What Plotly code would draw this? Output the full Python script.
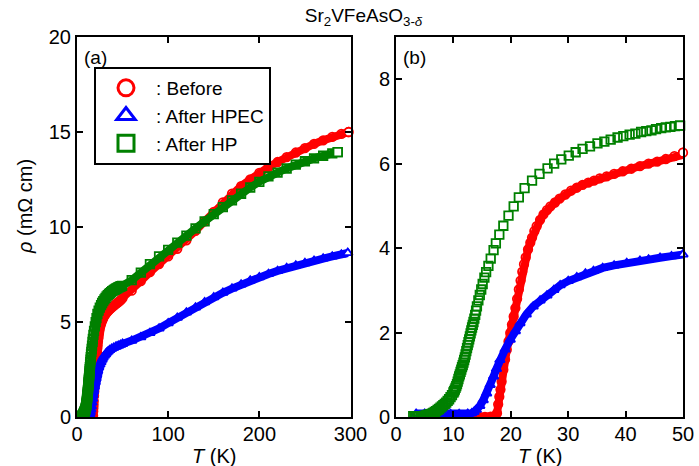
import plotly.graph_objects as go

# ---- resistivity data: T (K), rho (mOhm cm) ----
# Before
T_before = [7.5, 8.5, 9.5, 10.5, 11.5, 12.5, 13.5, 14.5, 15.5, 16.5, 17.0,
            17.3, 17.6, 17.8, 18.0, 18.2, 18.4, 18.7, 19.0, 19.3, 19.6, 19.9,
            20.2, 20.5, 20.8, 21.1, 21.4, 21.7, 22.0, 22.3, 22.6, 23.0, 23.4,
            23.7, 24.1, 24.5, 25.1, 25.7, 26.3, 26.9, 27.7, 28.5, 29.5, 30.5,
            31.5, 32.5, 33.5, 34.5, 35.5, 36.7, 38.0, 39.5, 41.0, 42.5, 44.0,
            45.5, 47.0, 48.5, 50.0,
            60, 70, 80, 90, 100, 110, 120, 130, 140, 150, 160, 170, 180, 190,
            200, 210, 220, 230, 240, 250, 260, 270, 280, 290, 298]
rho_before = [0.0, 0.0, 0.0, 0.0, 0.0, 0.0, 0.0, 0.0, 0.0, 0.01, 0.01,
              0.02, 0.09, 0.30, 0.48, 0.65, 0.84, 1.12, 1.36, 1.59, 1.79, 1.99,
              2.19, 2.38, 2.58, 2.80, 3.02, 3.23, 3.44, 3.62, 3.78, 3.97, 4.13,
              4.25, 4.40, 4.52, 4.67, 4.80, 4.90, 4.99, 5.08, 5.17, 5.27, 5.36,
              5.43, 5.50, 5.55, 5.60, 5.65, 5.70, 5.76, 5.82, 5.88, 5.94, 6.00,
              6.05, 6.11, 6.18, 6.26,
              6.65, 7.15, 7.62, 8.05, 8.45, 8.85, 9.30, 9.80, 10.30, 10.80,
              11.30, 11.75, 12.15, 12.50, 12.85, 13.15, 13.42, 13.68, 13.92,
              14.15, 14.37, 14.56, 14.74, 14.90, 15.00]

# After HPEC
T_hpec = [3.5, 5.0, 6.5, 8.0, 9.5, 11.0, 12.5, 13.2, 13.6, 14.0, 14.6, 15.2,
          15.8, 16.4, 17.0, 17.5, 18.1, 19.0, 19.9, 20.8, 21.6, 22.7, 23.9,
          25.1, 26.3, 27.5, 28.6, 30.0, 31.5, 33.0, 34.4, 36.0, 38.0, 40.2,
          42.5, 44.0, 46.0, 48.0, 50.0,
          60, 70, 80, 90, 100, 110, 120, 130, 140, 150, 160, 170, 180, 190,
          200, 210, 220, 230, 240, 250, 260, 270, 280, 290, 297]
rho_hpec = [0.08, 0.08, 0.07, 0.07, 0.07, 0.07, 0.08, 0.09, 0.12, 0.17, 0.26,
            0.40, 0.56, 0.76, 0.96, 1.14, 1.35, 1.60, 1.83, 2.03, 2.22, 2.43,
            2.62, 2.76, 2.88, 3.01, 3.12, 3.22, 3.31, 3.40, 3.46, 3.53, 3.59,
            3.65, 3.70, 3.73, 3.77, 3.81, 3.85,
            4.02, 4.20, 4.42, 4.66, 4.94, 5.22, 5.50, 5.77, 6.04, 6.30, 6.54,
            6.76, 6.98, 7.18, 7.36, 7.53, 7.69, 7.84, 7.98, 8.10, 8.22, 8.34,
            8.45, 8.56, 8.63]

# After HP
T_hp = [3.0, 3.25, 3.5, 3.75, 4.0, 4.25, 4.5, 4.75, 5.0, 5.25, 5.5, 5.75,
        6.0, 6.25, 6.5, 6.75, 7.0, 7.25, 7.5, 7.75,
        8.0, 8.25, 8.5, 8.75, 9.0, 9.25, 9.5, 9.75, 10.0, 10.125, 10.25,
        10.375, 10.5, 10.625, 10.75, 10.875, 11.0, 11.125, 11.25, 11.375,
        11.5, 11.625, 11.75, 11.875, 12.0, 12.125, 12.25, 12.375, 12.5,
        12.625, 12.75, 12.875, 13.0, 13.125, 13.25, 13.375, 13.5, 13.65,
        13.8, 13.95, 14.1, 14.35, 14.6, 14.85, 15.1, 15.4, 15.7, 16.1, 16.5,
        17.0, 17.4, 18.0, 18.7, 19.6, 20.5, 21.4, 22.4, 23.7, 25.0, 26.4,
        27.55, 28.8, 30.1, 31.3, 32.5, 33.8, 35.1, 36.3, 37.4, 38.6, 39.6,
        40.7, 41.7, 42.7, 43.6, 44.5, 45.3, 46.2, 47.0, 47.8, 48.6, 49.5,
        60, 70, 80, 90, 100, 110, 120, 130, 140, 150, 160, 170, 180, 190,
        200, 210, 220, 230, 240, 250, 260, 270, 280, 286]
rho_hp = [0.02, 0.02, 0.02, 0.02, 0.02, 0.02, 0.02, 0.02, 0.03, 0.04, 0.05,
          0.06, 0.07, 0.08, 0.10, 0.12, 0.14, 0.17, 0.19, 0.22,
          0.25, 0.28, 0.31, 0.34, 0.38, 0.42, 0.47, 0.52, 0.58, 0.61, 0.65,
          0.69, 0.73, 0.78, 0.84, 0.90, 0.96, 1.01, 1.07, 1.12,
          1.18, 1.23, 1.29, 1.35, 1.41, 1.48, 1.56, 1.63, 1.70,
          1.77, 1.84, 1.91, 1.98, 2.05, 2.12, 2.18, 2.25, 2.33,
          2.42, 2.52, 2.62, 2.76, 2.89, 3.02, 3.15, 3.30, 3.43, 3.58, 3.75,
          3.95, 4.11, 4.32, 4.53, 4.77, 4.99, 5.20, 5.42, 5.60, 5.76, 5.89,
          6.00, 6.10, 6.19, 6.27, 6.35, 6.41, 6.48, 6.52, 6.57, 6.62, 6.65,
          6.69, 6.71, 6.75, 6.77, 6.79, 6.82, 6.84, 6.86, 6.87, 6.89, 6.90,
          7.20, 7.60, 8.05, 8.45, 8.80, 9.18, 9.55, 9.93, 10.30, 10.68, 11.05,
          11.40, 11.75, 12.08, 12.38, 12.66, 12.86, 13.08, 13.28, 13.46,
          13.61, 13.75, 13.87, 13.94]

series = [
    dict(T=T_before, rho=rho_before, name=": Before", color="#ff0000",
         symbol="circle"),
    dict(T=T_hpec, rho=rho_hpec, name=": After HPEC", color="#0000ff",
         symbol="triangle-up"),
    dict(T=T_hp, rho=rho_hp, name=": After HP", color="#008000",
         symbol="square"),
]

FONT = "Liberation Sans, Arial, sans-serif"
T_ZOOM_MAX = 50

fig = go.Figure()

for s in series:
    for xa, ya, zoomed in (("x", "y", False), ("x2", "y2", True)):
        band = not (zoomed and s["symbol"] == "square")
        # dense measurement points rendered as a solid band plus open markers
        fig.add_trace(go.Scatter(
            x=s["T"], y=s["rho"], xaxis=xa, yaxis=ya,
            mode="lines+markers" if band else "markers",
            line=dict(color=s["color"], width=8),
            marker=dict(symbol=s["symbol"] + "-open", size=8.5,
                        color=s["color"], line=dict(width=1.8, color=s["color"])),
            showlegend=False, hoverinfo="skip"))
        # last point inside the visible temperature window
        if zoomed:
            idx = max(i for i, t in enumerate(s["T"]) if t <= T_ZOOM_MAX)
        else:
            idx = len(s["T"]) - 1
        fig.add_trace(go.Scatter(
            x=[s["T"][idx]], y=[s["rho"][idx]], xaxis=xa, yaxis=ya,
            mode="markers", cliponaxis=False,
            marker=dict(symbol=s["symbol"], size=8.5, color="white",
                        line=dict(width=1.8, color=s["color"])),
            showlegend=False, hoverinfo="skip"))

# legend entries
for s in series:
    fig.add_trace(go.Scatter(
        x=[None], y=[None], mode="markers", name=s["name"],
        marker=dict(symbol=s["symbol"] + "-open", size=18, color=s["color"],
                    line=dict(width=3, color=s["color"]))))

axis_common = dict(showline=True, linecolor="black", linewidth=2,
                   mirror="allticks", ticks="inside", ticklen=6, tickwidth=2,
                   tickcolor="black", showgrid=False, zeroline=False,
                   automargin=False,
                   tickfont=dict(family=FONT, size=20, color="black"))

W, H = 699, 466
ML, MR, MT, MB = 77, 16, 37, 49
pw = W - ML - MR
ph = H - MT - MB


def px_x(px):
    """Horizontal pixel -> paper fraction."""
    return (px - ML) / pw


def px_y(py):
    """Vertical pixel (from top) -> paper fraction."""
    return (H - MB - py) / ph


axis_title_font = dict(family=FONT, size=20, color="black")

fig.update_layout(
    template="none",
    width=W, height=H,
    margin=dict(l=ML, r=MR, t=MT, b=MB, pad=0),
    paper_bgcolor="white", plot_bgcolor="white",
    font=dict(family=FONT, size=20, color="black"),
    title=dict(text="Sr<sub>2</sub>VFeAsO<sub>3-<i>δ</i></sub>",
               x=363.5 / W, xanchor="center", y=1 - 15 / H, yanchor="middle",
               font=dict(size=19)),
    xaxis=dict(domain=[0, px_x(350.5)], range=[0, 300],
               tickvals=[0, 100, 200, 300], ticklabelstandoff=-2,
               **axis_common),
    yaxis=dict(domain=[0, 1], range=[0, 20], tickvals=[0, 5, 10, 15, 20],
               **axis_common),
    xaxis2=dict(domain=[px_x(396), 1], range=[0, 50],
                tickvals=[0, 10, 20, 30, 40, 50], anchor="y2",
                ticklabelstandoff=-2, **axis_common),
    yaxis2=dict(domain=[0, 1], range=[0, 9], tickvals=[0, 2, 4, 6, 8],
                anchor="x2", **axis_common),
    legend=dict(x=px_x(94), y=px_y(67), xanchor="left", yanchor="top",
                bordercolor="black", borderwidth=2, bgcolor="white",
                font=dict(family=FONT, size=19), itemwidth=50,
                tracegroupgap=0),
    annotations=[
        dict(text="(a)", xref="x domain", yref="y domain", x=0.02, y=0.978,
             xanchor="left", yanchor="top", showarrow=False,
             font=dict(size=19)),
        dict(text="(b)", xref="x2 domain", yref="y2 domain", x=0.016, y=0.978,
             xanchor="left", yanchor="top", showarrow=False,
             font=dict(size=19)),
        # axis titles
        dict(text="<i>T</i> (K)", xref="x domain", yref="paper", x=0.5,
             y=px_y(456), xanchor="center", yanchor="middle", showarrow=False,
             font=axis_title_font),
        dict(text="<i>T</i> (K)", xref="x2 domain", yref="paper", x=0.5,
             y=px_y(456), xanchor="center", yanchor="middle", showarrow=False,
             font=axis_title_font),
        dict(text="<i>ρ</i> (mΩ cm)", xref="paper", yref="paper",
             x=px_x(25), y=px_y(207), xanchor="center", yanchor="middle",
             textangle=-90, showarrow=False, font=axis_title_font),
    ],
)

fig.write_html("out.html")
